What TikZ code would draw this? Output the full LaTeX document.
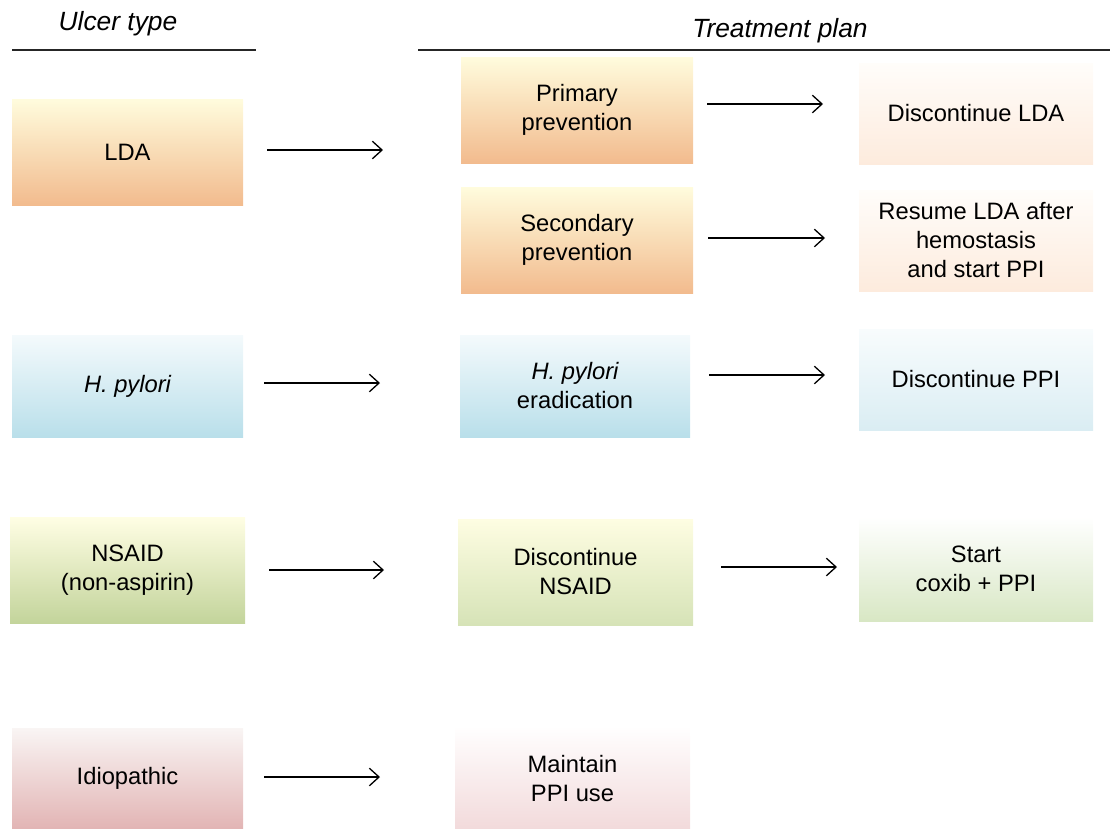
\documentclass[tikz,border=0pt]{standalone}
\usepackage{fontspec}
\setmainfont{Liberation Sans}
\usetikzlibrary{arrows.meta}
\definecolor{ldaT}{HTML}{FFFCDD}\definecolor{ldaB}{HTML}{F2BB8E}
\definecolor{ldlT}{HTML}{FFFDFA}\definecolor{ldlB}{HTML}{FDEBDD}
\definecolor{hpT}{HTML}{F4FAFC}\definecolor{hpB}{HTML}{B9DFEA}
\definecolor{hplT}{HTML}{F8FCFD}\definecolor{hplB}{HTML}{DAEDF3}
\definecolor{nsT}{HTML}{FFFEE4}\definecolor{nsB}{HTML}{C3D49B}
\definecolor{nsmT}{HTML}{FEFDE2}\definecolor{nsmB}{HTML}{D6E3B7}
\definecolor{nslT}{HTML}{FFFFFF}\definecolor{nslB}{HTML}{D8E7C4}
\definecolor{idT}{HTML}{F9F5F4}\definecolor{idB}{HTML}{E2B4B4}
\definecolor{idmT}{HTML}{FFFEFE}\definecolor{idmB}{HTML}{F2DADB}
\tikzset{
  box/.style n args={6}{minimum width=#3*0.02cm-#1*0.02cm, minimum height=#4*0.02cm-#2*0.02cm,
    inner sep=0pt, outer sep=0pt, anchor=north west, align=center,
    top color=#5, bottom color=#6, draw=none,
    font=\fontsize{13.5}{16.5}\selectfont},
  arr/.style={-{Straight Barb[length=5.5pt,width=10pt]}, line width=0.75pt},
  hdr/.style={font=\fontsize{15}{18}\selectfont\itshape, inner sep=0pt},
  rule/.style={line width=0.8pt, draw=black!85}
}
\begin{document}
\begin{tikzpicture}[x=0.02cm,y=-0.02cm]
\useasboundingbox (0,0) rectangle (1110,829);
% headers
\node[hdr] (h1) at (118,24) {Ulcer type};
\node[hdr] (h2) at (780,31) {Treatment plan};
\coordinate (r1a) at (12,50); \coordinate (r1b) at (256,50);
\coordinate (r2a) at (418,50); \coordinate (r2b) at (1110,50);
\draw[rule] (r1a) -- (r1b);
\draw[rule] (r2a) -- (r2b);
% boxes
\node[box={12}{99}{243}{205}{ldaT}{ldaB}] (lda) at (12,99) {LDA};
\node[box={461}{57}{693}{163}{ldaT}{ldaB}] (prim) at (461,57) {Primary\\prevention};
\node[box={461}{187}{693}{293}{ldaT}{ldaB}] (sec) at (461,187) {Secondary\\prevention};
\node[box={859}{63}{1093}{164}{ldlT}{ldlB}] (dlda) at (859,63) {Discontinue LDA};
\node[box={859}{190}{1093}{291}{ldlT}{ldlB}] (res) at (859,190) {Resume LDA after\\hemostasis\\and start PPI};
\node[box={12}{335}{243}{437}{hpT}{hpB}] (hp) at (12,335) {\itshape H. pylori};
\node[box={460}{335}{690}{437}{hpT}{hpB}] (hpe) at (460,335) {\itshape H. pylori\\eradication};
\node[box={859}{329}{1093}{430}{hplT}{hplB}] (dppi) at (859,329) {Discontinue PPI};
\node[box={10}{517}{245}{623}{nsT}{nsB}] (ns) at (10,517) {NSAID\\(non-aspirin)};
\node[box={458}{519}{693}{625}{nsmT}{nsmB}] (dns) at (458,519) {Discontinue\\NSAID};
\node[box={859}{517}{1093}{621}{nslT}{nslB}] (cox) at (859,517) {Start\\coxib + PPI};
\node[box={12}{728}{243}{829}{idT}{idB}] (idio) at (12,728) {Idiopathic};
\node[box={455}{728}{690}{829}{idmT}{idmB}] (mppi) at (455,728) {Maintain\\PPI use};
% arrows
\coordinate (a1s) at (267,150); \coordinate (a1e) at (383,150);
\coordinate (a2s) at (707,104); \coordinate (a2e) at (823,104);
\coordinate (a3s) at (708,238); \coordinate (a3e) at (825,238);
\coordinate (a4s) at (264,383); \coordinate (a4e) at (380,383);
\coordinate (a5s) at (709,375); \coordinate (a5e) at (825,375);
\coordinate (a6s) at (269,570); \coordinate (a6e) at (384,570);
\coordinate (a7s) at (721,567); \coordinate (a7e) at (837,567);
\coordinate (a8s) at (264,777); \coordinate (a8e) at (380,777);
\foreach \i in {1,...,8} {\draw[arr] (a\i s) -- (a\i e);}
\end{tikzpicture}
\end{document}
